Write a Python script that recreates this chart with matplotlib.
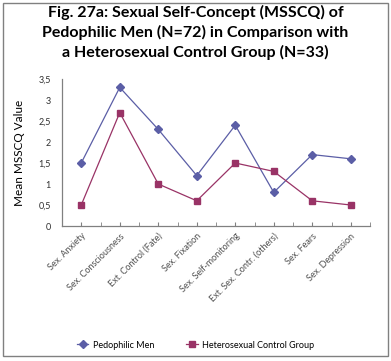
import numpy as np
import matplotlib
matplotlib.use("Agg")
import matplotlib.pyplot as plt
from matplotlib.patches import Rectangle
from matplotlib.ticker import FuncFormatter

categories = ["Sex. Anxiety", "Sex. Consciousness", "Ext. Control (Fate)", "Sex. Fixation",
              "Sex. Self-monitoring", "Ext. Sex. Contr. (others)", "Sex. Fears", "Sex. Depression"]
pedophilic = [1.5, 3.3, 2.3, 1.2, 2.4, 0.8, 1.7, 1.6]
control = [0.5, 2.7, 1.0, 0.6, 1.5, 1.3, 0.6, 0.5]
y_ticks = [0, 0.5, 1, 1.5, 2, 2.5, 3, 3.5]

plt.rcParams['font.family'] = ['Lato', 'DejaVu Sans']

fig = plt.figure(figsize=(3.91, 3.61), dpi=100)
ax = fig.add_axes([62 / 391, 1 - 226 / 361, 308 / 391, 147 / 361])

x = np.arange(len(categories))
ax.plot(x, pedophilic, color='#5b5ea6', lw=0.9, marker='D', ms=4, label='Pedophilic Men')
ax.plot(x, control, color='#993366', lw=0.9, marker='s', ms=5, label='Heterosexual Control Group')

ax.set_xlim(-0.5, len(categories) - 0.5)
ax.set_ylim(0, 3.5)
ax.set_yticks(y_ticks)
ax.yaxis.set_major_formatter(FuncFormatter(lambda v, p: ('%g' % v).replace('.', ',')))
ax.set_xticks(x)
ax.set_xticks(np.arange(-0.5, len(categories), 1.0), minor=True)
ax.set_xticklabels(categories, rotation=45, ha='right', rotation_mode='anchor',
                   fontsize=6.5, color='#505050')
ax.tick_params(axis='x', which='both', direction='in', length=3, color='#808080')
ax.tick_params(axis='y', length=0, labelsize=6.5, pad=8, labelcolor='#303030')
ax.tick_params(axis='x', pad=4)

for s in ['top', 'right']:
    ax.spines[s].set_visible(False)
for s in ['left', 'bottom']:
    ax.spines[s].set_color('#808080')
    ax.spines[s].set_linewidth(0.9)

ax.set_ylabel('Mean MSSCQ Value', fontsize=8.5, labelpad=10)

fig.text(0.5, 0.985, 'Fig. 27a: Sexual Self-Concept (MSSCQ) of\nPedophilic Men (N=72) in Comparison with\n'
         'a Heterosexual Control Group (N=33)', ha='center', va='top', fontsize=11.5,
         fontweight='bold', linespacing=1.4)

fig.legend(loc='center', bbox_to_anchor=(0.5, 1 - 345 / 361), ncol=2, frameon=False,
           fontsize=6.5, columnspacing=3.5, handlelength=1.3, handletextpad=0.5)

fig.patches.append(Rectangle((0.008, 0.013), 0.984, 0.98, transform=fig.transFigure,
                             fill=False, edgecolor='#808080', lw=1))

fig.savefig('out.png', dpi=100)
